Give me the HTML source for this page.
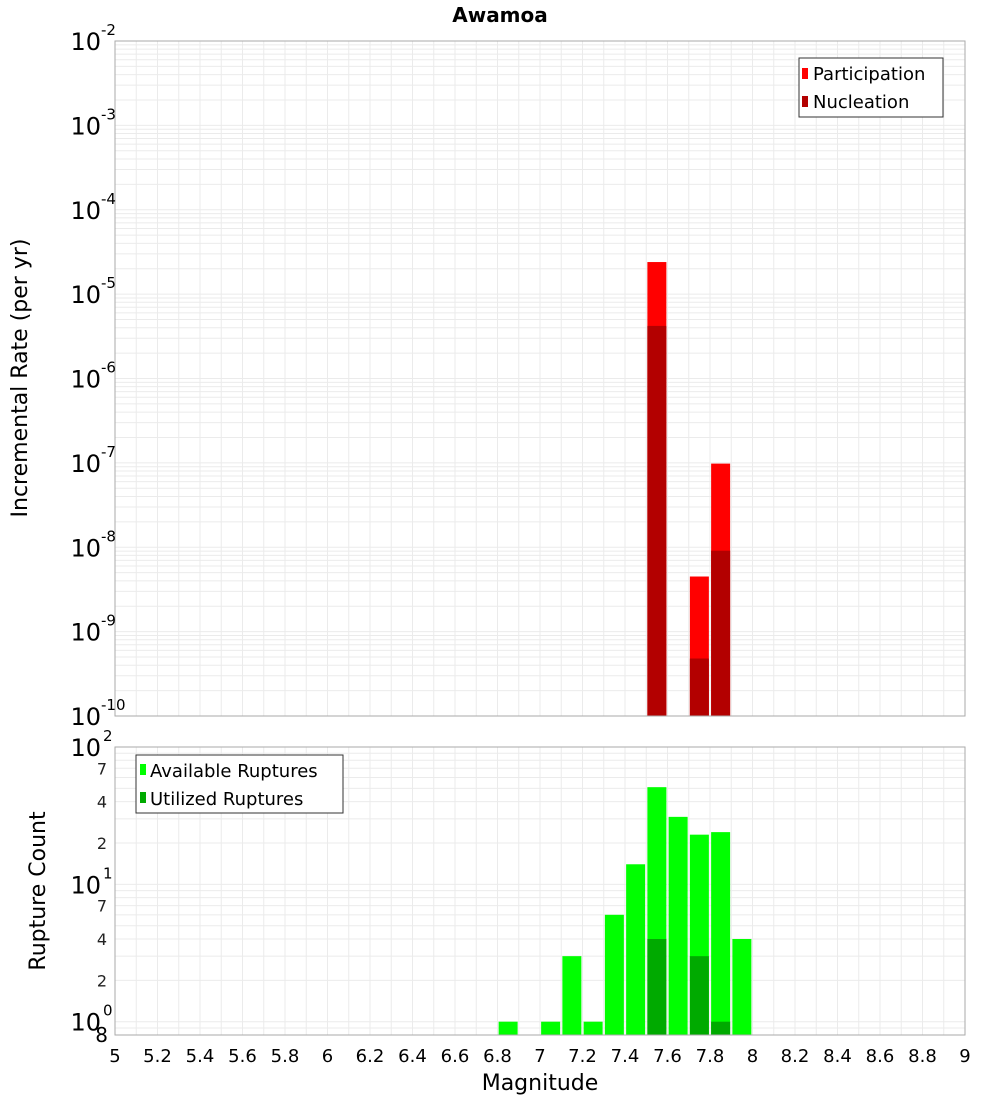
<!DOCTYPE html>
<html><head><meta charset="utf-8"><style>
body{margin:0;background:#fff}
svg{display:block;font-family:"DejaVu Sans","Liberation Sans",sans-serif}
</style></head><body>
<svg id="c" width="1000" height="1100" viewBox="0 0 1000 1100">
<text x="500" y="22" text-anchor="middle" font-size="20" font-weight="bold">Awamoa</text>
<g id="g"></g>
<text transform="translate(27,378) rotate(-90)" text-anchor="middle" font-size="22">Incremental Rate (per yr)</text>
<text transform="translate(45,891) rotate(-90)" text-anchor="middle" font-size="22">Rupture Count</text>
<text x="540" y="1090" text-anchor="middle" font-size="22">Magnitude</text>
<g>
<rect x="799" y="58" width="144" height="59" fill="#fff" stroke="#333"/>
<rect x="802" y="68" width="6" height="11" fill="#ff0000"/>
<text x="813" y="80" font-size="18">Participation</text>
<rect x="802" y="96" width="6" height="11" fill="#b30000"/>
<text x="813" y="108" font-size="18">Nucleation</text>
</g>
<g>
<rect x="136" y="755" width="207" height="58" fill="#fff" stroke="#333"/>
<rect x="140" y="764" width="6" height="11" fill="#00ff00"/>
<text x="150" y="777" font-size="18">Available Ruptures</text>
<rect x="140" y="792" width="6" height="11" fill="#00aa00"/>
<text x="150" y="805" font-size="18">Utilized Ruptures</text>
</g>
</svg>
<script>
const mags=[6.85,7.05,7.15,7.25,7.35,7.45,7.55,7.65,7.75,7.85,7.95];
const available=[1,1,3,1,6,14,51,31,23,24,4];
const utilized=[0,0,0,0,0,0,4,0,3,1,0];
const topMags=[7.55,7.75,7.85];
const participation=[2.4e-5,4.5e-9,9.8e-8];
const nucleation=[4.2e-6,4.8e-10,9.1e-9];
const xTicks=[5,5.2,5.4,5.6,5.8,6,6.2,6.4,6.6,6.8,7,7.2,7.4,7.6,7.8,8,8.2,8.4,8.6,8.8,9];
const topExps=[-2,-3,-4,-5,-6,-7,-8,-9,-10];
const botExps=[2,1,0];
const botMinor=[7,4,2];

const NS="http://www.w3.org/2000/svg";
const g=document.getElementById('g');
function el(t,a,p){const e=document.createElementNS(NS,t);for(const k in a)e.setAttribute(k,a[k]);(p||g).appendChild(e);return e;}
const L=115,R=965;
const x=m=>L+(m-5)/4*(R-L);
const T0=41,T1=716;
const yT=v=>T0+(-2-Math.log10(v))/8*(T1-T0);
const B0=747,B1=1035,bMin=Math.log10(0.8);
const yB=v=>B0+(2-Math.log10(v))/(2-bMin)*(B1-B0);

// plot backgrounds
let r=el('rect',{x:L,y:T0,width:R-L,height:T1-T0,fill:'#fff',stroke:'#aaa'});


r=el('rect',{x:L,y:B0,width:R-L,height:B1-B0,fill:'#fff',stroke:'#aaa'});


// grids
for(let m=5.1;m<9;m+=0.1){const xx=x(m);
 el('line',{x1:xx,x2:xx,y1:T0,y2:T1,stroke:'#ebebeb'});
 el('line',{x1:xx,x2:xx,y1:B0,y2:B1,stroke:'#ebebeb'});}
for(let e=-10;e<-2;e++)for(let k=1;k<10;k++){const yy=yT(k*Math.pow(10,e));if(yy>T0&&yy<T1)el('line',{x1:L,x2:R,y1:yy,y2:yy,stroke:'#ebebeb'});}
for(let e=-1;e<2;e++)for(let k=1;k<10;k++){const yy=yB(k*Math.pow(10,e));if(yy>B0&&yy<B1)el('line',{x1:L,x2:R,y1:yy,y2:yy,stroke:'#ebebeb'});}
// bars
const bw=19;
topMags.forEach((m,i)=>{
 let b=el('rect',{x:x(m)-bw/2,y:yT(participation[i]),width:bw,height:T1-yT(participation[i]),fill:'#ff0000'});
 
 
 b=el('rect',{x:x(m)-bw/2,y:yT(nucleation[i]),width:bw,height:T1-yT(nucleation[i]),fill:'#b30000'});
 
 
});
mags.forEach((m,i)=>{
 let b=el('rect',{x:x(m)-bw/2,y:yB(available[i]),width:bw,height:B1-yB(available[i]),fill:'#00ff00'});
 
 
 if(utilized[i]>0){b=el('rect',{x:x(m)-bw/2,y:yB(utilized[i]),width:bw,height:B1-yB(utilized[i]),fill:'#00aa00'});
 
 }
});
el('rect',{x:L,y:T0,width:R-L,height:T1-T0,fill:'none',stroke:'#aaa'});
el('rect',{x:L,y:B0,width:R-L,height:B1-B0,fill:'none',stroke:'#aaa'});
// x ticks
xTicks.forEach(m=>{const t=el('text',{x:x(m),y:1062,'text-anchor':'middle','font-size':18});t.textContent=String(m);
 
 });
// top y labels
topExps.forEach(e=>{const yy=yT(Math.pow(10,e));
 const t=el('text',{x:101,y:yy+9,'text-anchor':'end','font-size':24});t.textContent='10';
 
 
 const s=el('text',{x:101,y:yy-6,'font-size':15});s.textContent=String(e);});
// bottom y labels
botExps.forEach(e=>{const yy=yB(Math.pow(10,e));
 const t=el('text',{x:101,y:yy+9,'text-anchor':'end','font-size':24});t.textContent='10';
 
 
 const s=el('text',{x:103,y:yy-6,'font-size':15});s.textContent=String(e);});
[1,0].forEach(e=>botMinor.forEach(k=>{const yy=yB(k*Math.pow(10,e));
 const t=el('text',{x:107,y:yy+6,'text-anchor':'end','font-size':16,fill:'#222'});t.textContent=String(k);}));
const t8=el('text',{x:108,y:1042,'text-anchor':'end','font-size':20});t8.textContent='8';
</script>
</body></html>
